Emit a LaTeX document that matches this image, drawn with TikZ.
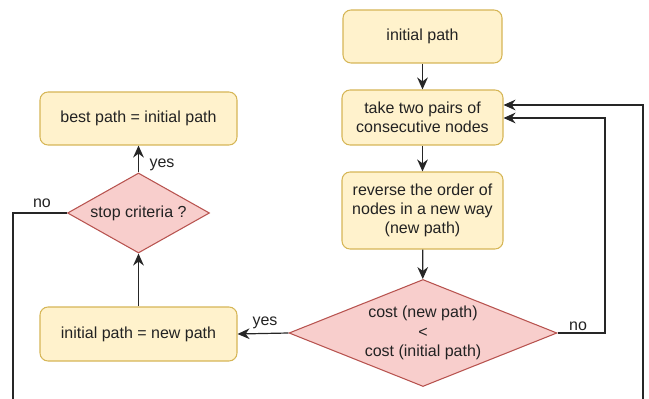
\documentclass[tikz,border=0pt]{standalone}
\usepackage{fontspec}
\setmainfont{Liberation Sans}
\usetikzlibrary{shapes.geometric,arrows.meta}
\definecolor{yfill}{HTML}{FFF2CC}
\definecolor{ydraw}{HTML}{D6B656}
\definecolor{rfill}{HTML}{F8CECC}
\definecolor{rdraw}{HTML}{B85450}
\definecolor{txt}{HTML}{222222}
\begin{document}
\begin{tikzpicture}[x=0.75pt,y=-0.75pt,
  font=\fontsize{12pt}{14.4pt}\selectfont,
  every node/.style={text=txt},
  procbox/.style={draw=ydraw,fill=yfill,rounded corners=6pt,align=center,inner sep=0pt,line width=0.8pt},
  decbox/.style={draw=rdraw,fill=rfill,diamond,align=center,inner sep=0pt,line width=0.8pt},
  conn/.style={draw=black!85,line width=0.9pt,-{Stealth[length=9pt,width=8pt]}},
  plain/.style={draw=black!85,line width=0.9pt},
  lbl/.style={inner sep=1pt}]
\useasboundingbox (0,0) rectangle (649,399);

\node[procbox,minimum width=119.25pt,minimum height=39.75pt] (init) at (422.5,36.5) {initial path};
\node[procbox,minimum width=120.75pt,minimum height=41.25pt] (take) at (422.5,117.5) {take two pairs of\\consecutive nodes};
\node[procbox,minimum width=120.75pt,minimum height=57.75pt] (rev) at (422.5,210.5) {reverse the order of\\nodes in a new way\\(new path)};
\node[decbox,aspect=2.5,minimum width=201pt,minimum height=80.25pt] (cost) at (423,333) {cost (new path)\\<\\cost (initial path)};
\node[procbox,minimum width=147.75pt,minimum height=40.5pt] (newp) at (138.5,334) {initial path = new path};
\node[decbox,aspect=1.775,minimum width=106.5pt,minimum height=60pt] (stop) at (138.5,213) {stop criteria ?};
\node[procbox,minimum width=147.75pt,minimum height=39.75pt] (best) at (138.5,118.5) {best path = initial path};

\coordinate (inA) at (take.east |- 0,105);
\coordinate (inB) at (take.east |- 0,118);
\coordinate (botR) at (643,399);
\coordinate (botL) at (13,399);

\draw[conn] (init) -- (take);
\draw[conn] (take) -- (rev);
\draw[conn] (rev) -- (cost);
\draw[conn] (cost.west) -- (newp.east);
\draw[conn] (newp) -- (stop);
\draw[conn] (stop.north) -- (best.south);
\draw[conn] (cost.east) -- (605,333) -- (605,118) -- (inB);
\draw[conn] (botR) -- (643,105) -- (inA);
\draw[plain] (stop.west) -- (13,213) -- (botL);

\node[lbl] (l1) at (162,165) {yes};
\node[lbl] (l2) at (42,203) {no};
\node[lbl] (l3) at (265,323) {yes};
\node[lbl] (l4) at (578,326) {no};
\end{tikzpicture}
\end{document}
